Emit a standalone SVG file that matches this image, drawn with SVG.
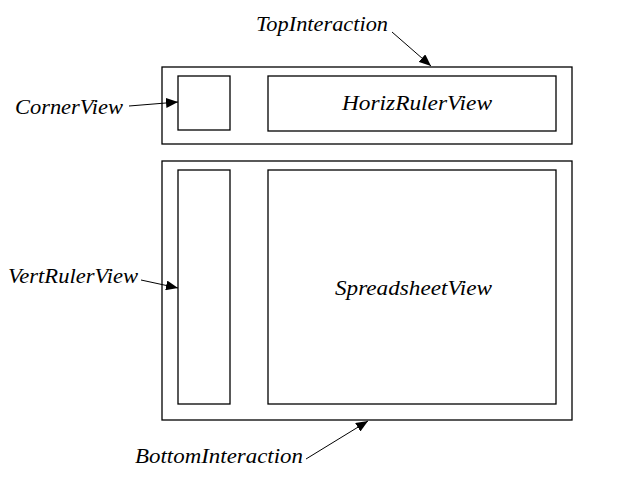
<svg xmlns="http://www.w3.org/2000/svg" width="626" height="477" viewBox="0 0 626 477">
<style>
.box{fill:none;stroke:#000;stroke-width:1.3}
.lbl{font-family:"Liberation Serif","DejaVu Serif",serif;font-style:italic;font-size:22px;fill:#000}
.con{stroke:#000;stroke-width:1;fill:none;marker-end:url(#ah)}
</style>
<defs>
<marker id="ah" markerWidth="12" markerHeight="10" refX="12" refY="5" orient="auto" markerUnits="userSpaceOnUse">
<path d="M0,0 L12,5 L0,10 Z" fill="#000"/>
</marker>
</defs>
<rect width="626" height="477" fill="#fff"/>
<g id="TopInteraction"><rect class="box" x="162" y="67" width="410" height="77"/></g>
<g id="CornerView"><rect class="box" x="178" y="76" width="52" height="54"/></g>
<g id="HorizRulerView"><rect class="box" x="268" y="76" width="288" height="55"/><text class="lbl" x="342" y="110" textLength="150" lengthAdjust="spacingAndGlyphs">HorizRulerView</text></g>
<g id="BottomInteraction"><rect class="box" x="162" y="161" width="410" height="259"/></g>
<g id="VertRulerView"><rect class="box" x="178" y="170" width="52" height="234"/></g>
<g id="SpreadsheetView"><rect class="box" x="268" y="170" width="288" height="234"/><text class="lbl" x="335" y="295" textLength="157" lengthAdjust="spacingAndGlyphs">SpreadsheetView</text></g>
<g id="labels">
<text class="lbl" x="256" y="31" textLength="132" lengthAdjust="spacingAndGlyphs">TopInteraction</text>
<text class="lbl" x="15" y="114" textLength="108" lengthAdjust="spacingAndGlyphs">CornerView</text>
<text class="lbl" x="8" y="283" textLength="130" lengthAdjust="spacingAndGlyphs">VertRulerView</text>
<text class="lbl" x="135" y="463" textLength="168" lengthAdjust="spacingAndGlyphs">BottomInteraction</text>
</g>
<g id="connectors">
<line class="con" x1="392" y1="32" x2="431" y2="66"/>
<line class="con" x1="129" y1="106" x2="178" y2="102"/>
<line class="con" x1="141" y1="280" x2="178" y2="288"/>
<line class="con" x1="306" y1="459" x2="368" y2="421"/>
</g>
</svg>
